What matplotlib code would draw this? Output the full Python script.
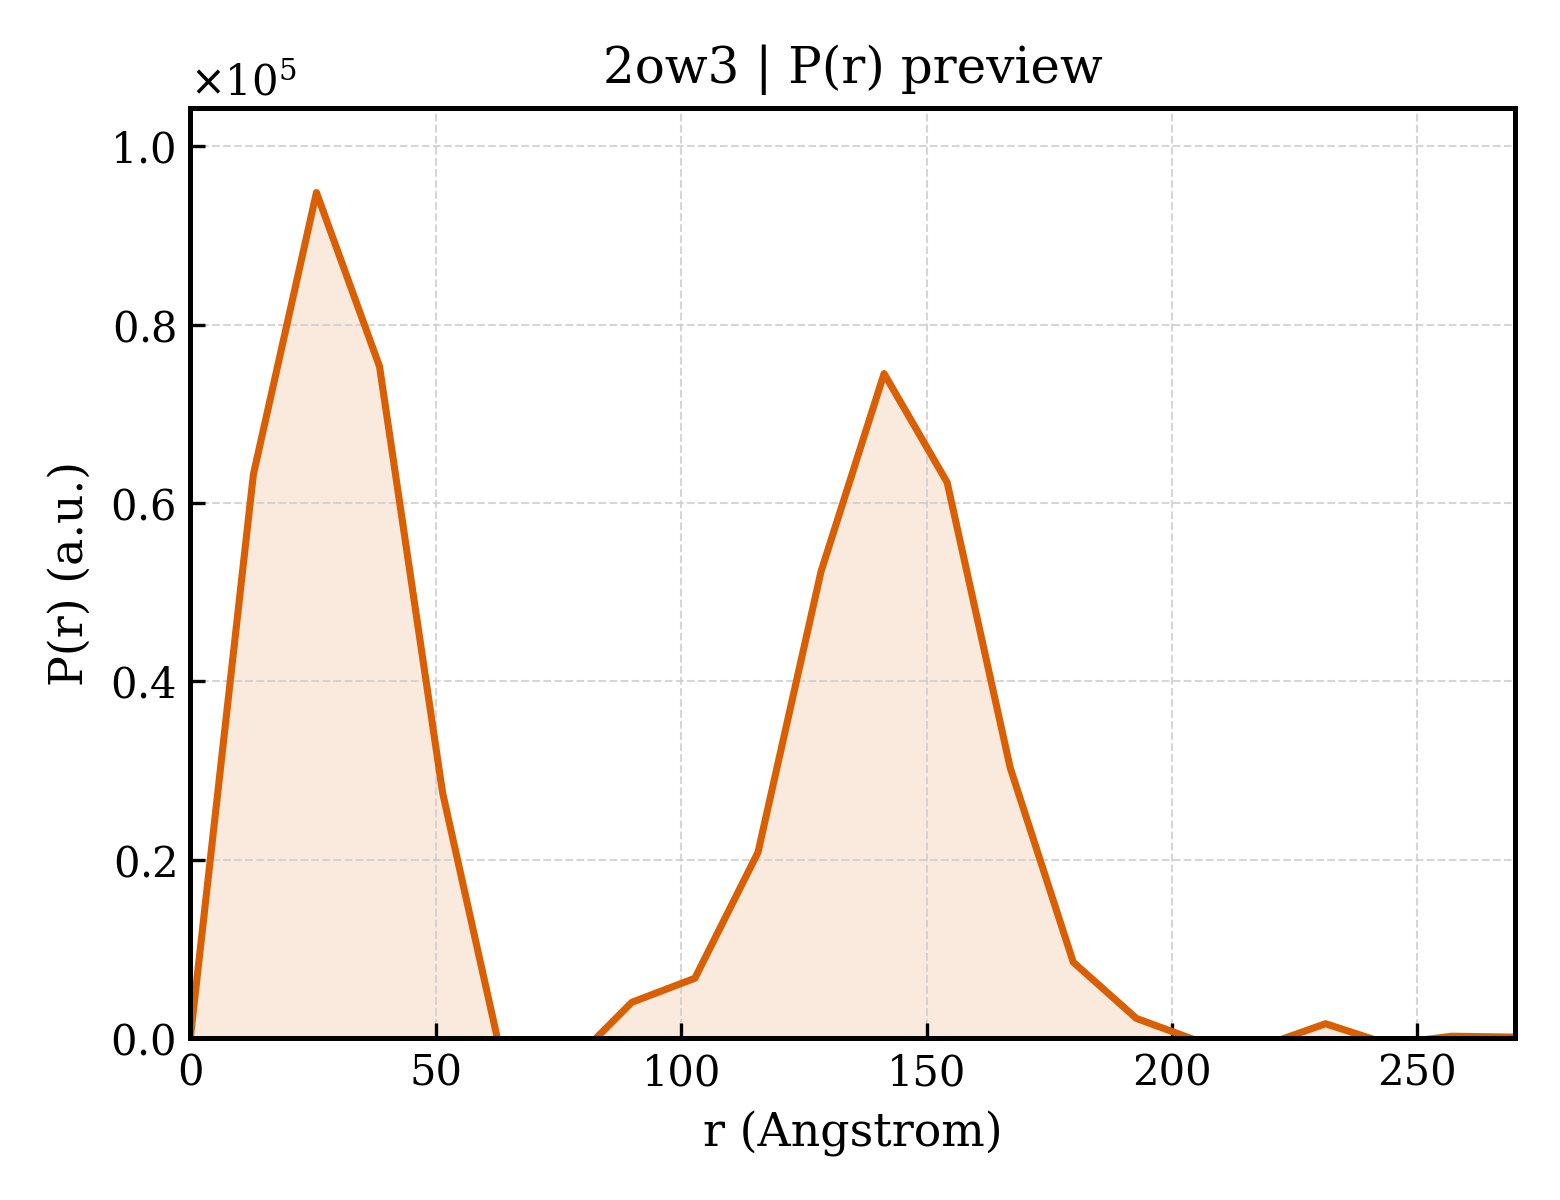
import numpy as np
import matplotlib
matplotlib.use("Agg")
import matplotlib.pyplot as plt

# P(r) sample points (r in Angstrom, P in units of 1e5)
r = np.arange(22) * 12.85
p = np.array([0.0, 0.632, 0.948, 0.753, 0.275, -0.042, -0.031, 0.040,
              0.067, 0.208, 0.523, 0.745, 0.623, 0.303, 0.085, 0.022,
              -0.004, -0.009, 0.016, -0.007, 0.002, 0.001]) * 1e5

plt.rcParams['font.family'] = ['DejaVu Serif']
plt.rcParams['xtick.direction'] = 'in'
plt.rcParams['ytick.direction'] = 'in'

fig = plt.figure(figsize=(5.2, 4), dpi=300)
ax = fig.add_axes([0.122, 0.135, 0.849, 0.775])

color = '#d95f02'
ax.plot(r, p, color=color, lw=1.7)
ax.fill_between(r, p, 0, color=color, alpha=0.13, lw=0)

ax.set_xlim(0, r[-1])
ax.set_ylim(0, p.max() * 1.1)
ax.ticklabel_format(axis='y', style='sci', scilimits=(0, 0), useMathText=True)
ax.grid(True, ls='--', lw=0.5, color='#cccccc', alpha=0.8)
ax.tick_params(labelsize=10)
ax.yaxis.get_offset_text().set_fontsize(10)
for s in ax.spines.values():
    s.set_linewidth(1.2)

ax.set_title('2ow3 | P(r) preview', fontsize=12)
ax.set_xlabel('r (Angstrom)', fontsize=11)
ax.set_ylabel('P(r) (a.u.)', fontsize=11)

fig.savefig('out.png', dpi=300)
